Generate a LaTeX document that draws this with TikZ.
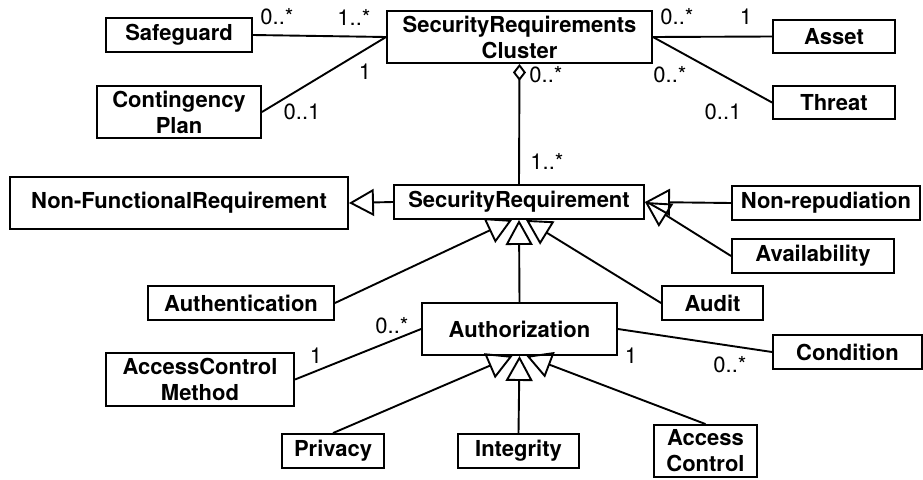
\documentclass[tikz,border=0pt]{standalone}
\usepackage{fontspec}
\setmainfont{TeX Gyre Heros}
\usetikzlibrary{arrows.meta}
\begin{document}
\begin{tikzpicture}[x=1pt,y=-1pt,line width=1.9pt,
  cls/.style={draw,inner sep=0pt,align=center,font=\fontsize{22}{26}\selectfont\bfseries},
  mult/.style={inner sep=0pt,font=\fontsize{22}{26}\selectfont},
  gen/.style={-{Triangle[open,length=25pt,width=27pt]}},
  agg/.style={-{Diamond[open,length=17pt,width=13pt]}}]
\useasboundingbox (0,0) rectangle (923,479);

% classes
\node[cls,minimum width=265pt,minimum height=52pt] (cluster) at (519.5,37) {SecurityRequirements\\Cluster};
\node[cls,minimum width=146pt,minimum height=34pt] (safeguard) at (179,35) {Safeguard};
\node[cls,minimum width=164pt,minimum height=52pt] (contingency) at (179,112) {Contingency\\Plan};
\node[cls,minimum width=122pt,minimum height=33pt] (asset) at (834,36.5) {Asset};
\node[cls,minimum width=122pt,minimum height=33pt] (threat) at (834,102.5) {Threat};
\node[cls,minimum width=250pt,minimum height=34pt] (secreq) at (519,202) {SecurityRequirement};
\node[cls,minimum width=338pt,minimum height=52pt] (nfr) at (179,203) {Non-FunctionalRequirement};
\node[cls,minimum width=188pt,minimum height=34pt] (nonrep) at (826,203) {Non-repudiation};
\node[cls,minimum width=162pt,minimum height=34pt] (avail) at (813,256) {Availability};
\node[cls,minimum width=101pt,minimum height=34pt] (audit) at (712.5,303) {Audit};
\node[cls,minimum width=186pt,minimum height=34pt] (authn) at (241,303) {Authentication};
\node[cls,minimum width=195pt,minimum height=52pt] (authz) at (519.5,329) {Authorization};
\node[cls,minimum width=188pt,minimum height=53pt] (acm) at (200,379.5) {AccessControl\\Method};
\node[cls,minimum width=149pt,minimum height=34pt] (condition) at (847.5,352) {Condition};
\node[cls,minimum width=102pt,minimum height=34pt] (privacy) at (333,451) {Privacy};
\node[cls,minimum width=121pt,minimum height=34pt] (integrity) at (518.5,451) {Integrity};
\node[cls,minimum width=103pt,minimum height=52pt] (accessctl) at (705.5,451) {Access\\Control};

% associations
\draw (safeguard.east) -- (cluster.west);
\draw (contingency.east) -- (cluster.west);
\draw (cluster.east) -- (asset.west);
\draw (cluster.east) -- (threat.west);
\draw (acm.east) -- (authz.west);
\draw (authz.east) -- (condition.west);

% aggregation
\draw[agg] (secreq.north) -- (cluster.south);

% generalizations
\draw[gen] (secreq.west) -- (nfr.east);
\draw[gen] (nonrep.west) -- (secreq.east);
\draw[gen] (avail.west) -- (secreq.east);
\draw[gen] (authn.east) -- ([xshift=-7pt]secreq.south);
\draw[gen] (authz.north) -- (secreq.south);
\draw[gen] (audit.west) -- ([xshift=7pt]secreq.south);
\draw[gen] (privacy.north) -- ([xshift=-7pt]authz.south);
\draw[gen] (integrity.north) -- (authz.south);
\draw[gen] (accessctl.north) -- ([xshift=7pt]authz.south);

% multiplicities
\node[mult] (m1) at (277,17) {0..*};
\node[mult] (m2) at (354,17) {1..*};
\node[mult] (m3) at (365,72) {1};
\node[mult] (m4) at (302,112) {0..1};
\node[mult] (m5) at (677,17) {0..*};
\node[mult] (m6) at (746,17) {1};
\node[mult] (m7) at (546,75) {0..*};
\node[mult] (m8) at (670,75) {0..*};
\node[mult] (m9) at (723,112) {0..1};
\node[mult] (m10) at (547,161) {1..*};
\node[mult] (m11) at (392,326) {0..*};
\node[mult] (m12) at (316,356) {1};
\node[mult] (m13) at (631,356) {1};
\node[mult] (m14) at (730,365) {0..*};
\end{tikzpicture}
\end{document}
